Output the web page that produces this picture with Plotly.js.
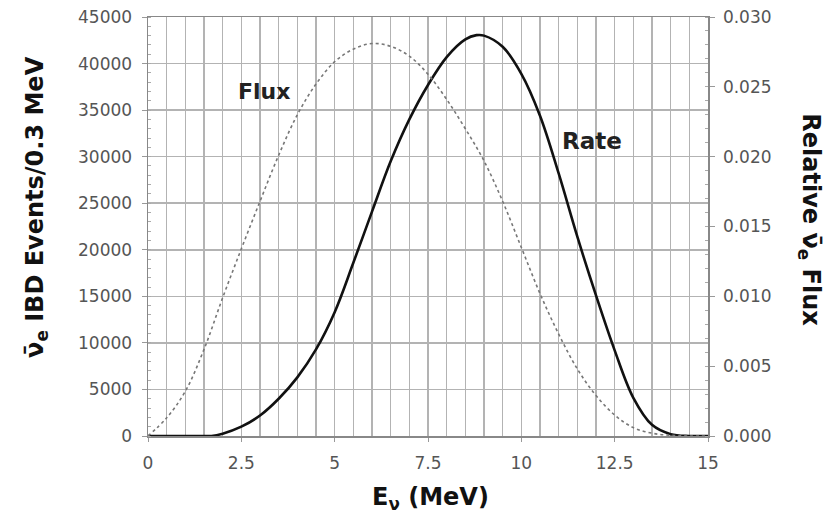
<!DOCTYPE html>
<html>
<head>
<meta charset="utf-8">
<script src="https://cdn.plot.ly/plotly-3.0.1.min.js"></script>
<style>html,body{margin:0;padding:0;background:#fff;}#chart{width:828px;height:518px;}</style>
</head>
<body>
<div id="chart"></div>
<script>
// Neutrino energy (MeV)
const rateEnergy = [0, 1.0, 1.5, 1.7, 2.0, 2.5, 3.0, 3.5, 4.0, 4.5, 5.0, 5.5, 6.0, 6.5, 7.0, 7.5, 8.0, 8.5, 8.8, 9.0, 9.5, 10.0, 10.5, 11.0, 11.5, 12.0, 12.5, 13.0, 13.5, 14.0, 14.5, 15.0];
// IBD events per 0.3 MeV
const rateValues = [0, 0, 0, 0, 250, 1000, 2200, 4000, 6300, 9300, 13300, 18600, 24100, 29500, 34000, 37700, 40700, 42600, 43050, 43000, 41800, 38900, 34400, 28200, 21400, 15100, 9200, 4100, 1200, 200, 0, 0];

const fluxEnergy = [0, 0.5, 1.0, 1.5, 2.0, 2.5, 3.0, 3.5, 4.0, 4.5, 5.0, 5.5, 6.0, 6.5, 7.0, 7.5, 8.0, 8.5, 9.0, 9.5, 10.0, 10.5, 11.0, 11.5, 12.0, 12.5, 13.0, 13.5, 14.0, 14.5, 15.0];
// Relative anti-neutrino flux
const fluxValues = [0, 0.0013, 0.0032, 0.0062, 0.0099, 0.0134, 0.0168, 0.0201, 0.0230, 0.0252, 0.0268, 0.0277, 0.0281, 0.0279, 0.0272, 0.0259, 0.0241, 0.0220, 0.0197, 0.0168, 0.0135, 0.0102, 0.0073, 0.0048, 0.0029, 0.0015, 0.0006, 0.0002, 0.00005, 0, 0];

const xTicks = [0, 2.5, 5, 7.5, 10, 12.5, 15];
const xTickText = ['0', '2.5', '5', '7.5', '10', '12.5', '15'];

const tickFont = {family: 'DejaVu Sans', size: 17, color: '#555'};
const titleFont = {family: 'DejaVu Sans', size: 24, color: '#111'};
const gridColor = '#b3b3b3';

const traces = [
  {
    x: fluxEnergy, y: fluxValues, yaxis: 'y2', mode: 'lines', name: 'Flux',
    line: {color: '#777', width: 1.6, dash: 'dot', shape: 'spline', smoothing: 1}
  },
  {
    x: rateEnergy, y: rateValues, yaxis: 'y', mode: 'lines', name: 'Rate',
    line: {color: '#111', width: 2.6, shape: 'spline', smoothing: 1}
  }
];

const layout = {
  width: 828, height: 518,
  margin: {l: 148, r: 120, t: 17, b: 82},
  paper_bgcolor: '#fff', plot_bgcolor: '#fff',
  showlegend: false,
  font: {family: 'DejaVu Sans', color: '#111'},
  xaxis: {
    range: [0, 15], tickvals: xTicks, ticktext: xTickText,
    showgrid: true, gridcolor: gridColor, gridwidth: 1.5,
    minor: {dtick: 0.5, showgrid: true, gridcolor: gridColor, gridwidth: 1.5},
    ticks: 'outside', ticklen: 4, tickcolor: '#999', ticklabelstandoff: 7,
    showline: true, linecolor: '#888', linewidth: 1.5, mirror: true,
    zeroline: false, tickfont: tickFont
  },
  yaxis: {
    range: [0, 45000], dtick: 5000, tickformat: 'd',
    showgrid: true, gridcolor: gridColor, gridwidth: 1.5,
    ticks: 'outside', ticklen: 5, tickcolor: '#999', ticklabelstandoff: 6,
    minor: {dtick: 1000, ticks: 'inside', ticklen: 3, tickcolor: '#aaa', showgrid: false},
    showline: true, linecolor: '#888', linewidth: 1.5,
    zeroline: false, tickfont: tickFont
  },
  yaxis2: {
    overlaying: 'y', side: 'right',
    range: [0, 0.03], dtick: 0.005, tickformat: '.3f',
    showgrid: false,
    ticks: 'outside', ticklen: 5, tickcolor: '#999', ticklabelstandoff: 5,
    minor: {dtick: 0.001, ticks: 'inside', ticklen: 3, tickcolor: '#aaa', showgrid: false},
    showline: true, linecolor: '#888', linewidth: 1.5,
    zeroline: false, tickfont: tickFont
  },
  annotations: [
    {text: '<b>ν̄<sub>e</sub> IBD Events/0.3 MeV</b>', xref: 'paper', yref: 'paper', x: -0.198, y: 0.547,
     xanchor: 'center', yanchor: 'middle', textangle: -90, showarrow: false, font: titleFont},
    {text: '<b>Relative ν̄<sub>e</sub> Flux</b>', xref: 'paper', yref: 'paper', x: 1.182, y: 0.515,
     xanchor: 'center', yanchor: 'middle', textangle: 90, showarrow: false, font: titleFont},
    {text: '<b>E<sub>ν</sub> (MeV)</b>', xref: 'paper', yref: 'paper', x: 0.504, y: -0.148,
     xanchor: 'center', yanchor: 'middle', showarrow: false, font: titleFont},
    {text: '<b>Flux</b>', xref: 'x', yref: 'y', x: 3.1, y: 37000, showarrow: false,
     xanchor: 'center', yanchor: 'middle', font: {family: 'DejaVu Sans', size: 22, color: '#222'}},
    {text: '<b>Rate</b>', xref: 'x', yref: 'y', x: 11.9, y: 31700, showarrow: false,
     xanchor: 'center', yanchor: 'middle', font: {family: 'DejaVu Sans', size: 23, color: '#222'}}
  ]
};

Plotly.newPlot('chart', traces, layout, {staticPlot: true, displayModeBar: false});
</script>
</body>
</html>
